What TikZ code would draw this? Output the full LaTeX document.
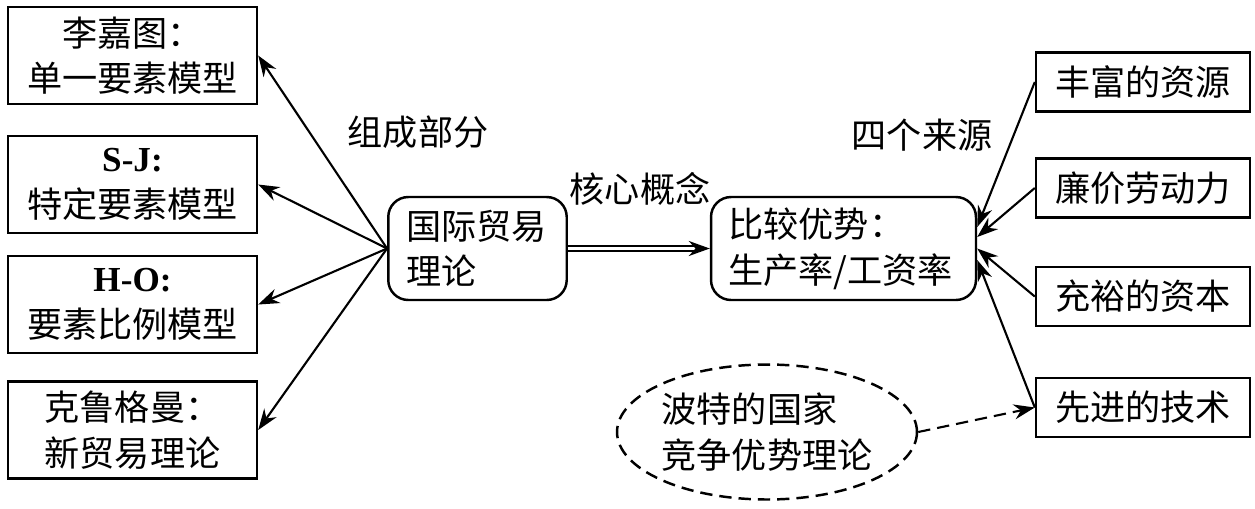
\documentclass[tikz,border=0pt]{standalone}
\usepackage{fontspec}
\setmainfont{Noto Sans CJK SC}
\newfontfamily\latinfont{Liberation Serif}
\usetikzlibrary{arrows.meta,shapes.geometric}

\tikzset{
    modelbox/.style={draw, line width=1.4pt, minimum width=4.98cm, minimum height=1.94cm, inner sep=0pt, align=center},
    sourcebox/.style={draw, line width=1.4pt, minimum width=4.28cm, minimum height=1.18cm, inner sep=0pt},
    theorybox/.style={draw, line width=1.4pt, rounded corners=0.4cm, minimum height=2.06cm, inner ysep=0pt, align=left},
    link/.style={-{Stealth[length=0.42cm, width=0.3cm]}, line width=1.2pt}
}

\begin{document}
\begin{tikzpicture}[x=0.02cm, y=-0.02cm, every node/.style={font=\fontsize{20pt}{26pt}\selectfont}]
    \useasboundingbox (0,0) rectangle (1255,508);

    % Centre
    \node[theorybox, text width=2.85cm, inner xsep=0.36cm] (trade) at (477.5,248.5) {国际贸易\\理论};
    \node[theorybox, text width=4.6cm, inner xsep=0.35cm] (comp) at (843.5,248.5) {比较优势：\\生产率/工资率};

    % Models
    \node[modelbox] (ricardo) at (132.5,55.5) {李嘉图：\\单一要素模型};
    \node[modelbox] (sj) at (132.5,184.5) {{\latinfont\bfseries S-J:}\\特定要素模型};
    \node[modelbox] (ho) at (132.5,304.5) {{\latinfont\bfseries H-O:}\\要素比例模型};
    \node[modelbox] (krugman) at (132.5,430) {克鲁格曼：\\新贸易理论};

    % Sources
    \node[sourcebox] (resource) at (1143,82) {丰富的资源};
    \node[sourcebox] (labour) at (1143,188) {廉价劳动力};
    \node[sourcebox] (capital) at (1143,296.5) {充裕的资本};
    \node[sourcebox] (tech) at (1143,407.5) {先进的技术};

    % Porter
    \node[ellipse, draw, dash pattern=on 7pt off 4pt, line width=1.4pt, minimum width=6cm, minimum height=2.7cm, inner sep=0pt, align=left] (porter) at (767,432) {波特的国家\\竞争优势理论};

    % Labels
    \node (partlbl) at (418,132) {组成部分};
    \node (corelbl) at (640,189) {核心概念};
    \node (srclbl) at (922,135) {四个来源};

    % Arrows
    \draw[link] (trade.west) -- (ricardo.east);
    \draw[link] (trade.west) -- (sj.east);
    \draw[link] (trade.west) -- (ho.east);
    \draw[link] (trade.west) -- (krugman.east);
    \draw[link, double, double distance=1.5pt, line width=1.4pt] (trade.east) -- (comp.west);
    \draw[link] (resource.west) -- ([yshift=0.43cm]comp.east);
    \draw[link] (labour.west) -- ([yshift=0.23cm]comp.east);
    \draw[link] (capital.west) -- (comp.east);
    \draw[link] (tech.west) -- ([yshift=-0.23cm]comp.east);
    \draw[link, dash pattern=on 7pt off 4pt] (porter.east) -- (tech.west);
\end{tikzpicture}
\end{document}
